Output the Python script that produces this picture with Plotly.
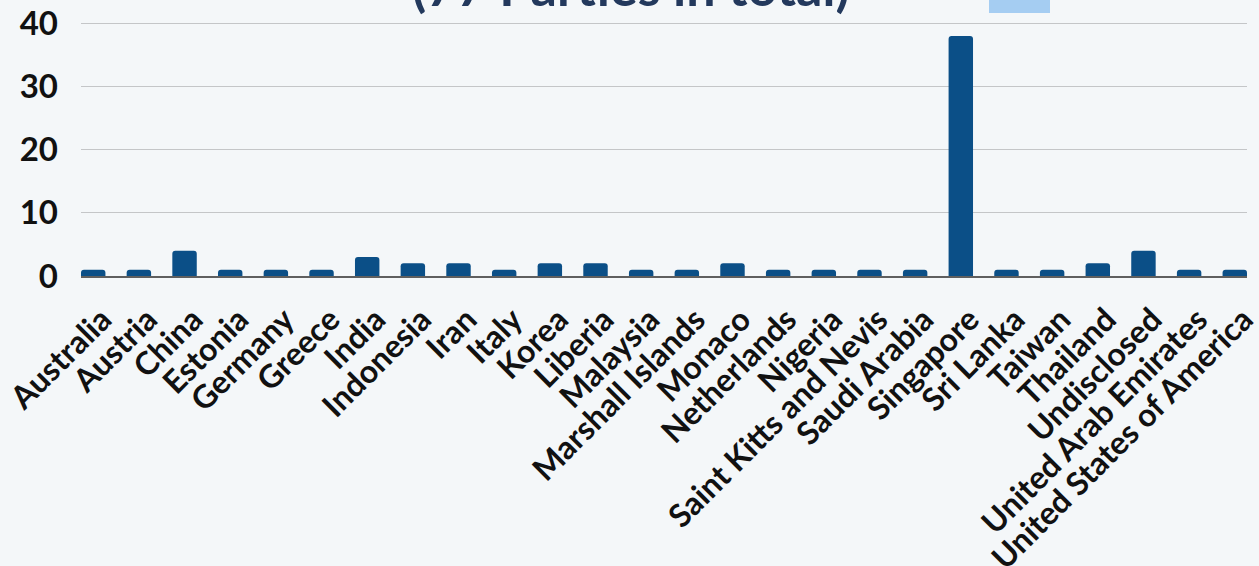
import plotly.graph_objects as go

countries = ["Australia", "Austria", "China", "Estonia", "Germany", "Greece", "India",
             "Indonesia", "Iran", "Italy", "Korea", "Liberia", "Malaysia", "Marshall Islands",
             "Monaco", "Netherlands", "Nigeria", "Saint Kitts and Nevis", "Saudi Arabia",
             "Singapore", "Sri Lanka", "Taiwan", "Thailand", "Undisclosed",
             "United Arab Emirates", "United States of America"]
parties = [1, 1, 4, 1, 1, 1, 3, 2, 2, 1, 2, 2, 1, 1, 2, 1, 1, 1, 1, 38, 1, 1, 2, 4, 1, 1]
y_ticks = [0, 10, 20, 30, 40]
title_text = "(77 Parties in total)"

BG = "#f4f7f9"
BAR = "#0b4f87"
FONT = "Lato"

fig = go.Figure(go.Bar(
    x=countries, y=parties,
    marker=dict(color=BAR, cornerradius=3, line=dict(width=0)),
    showlegend=False,
))

fig.update_layout(
    width=1259, height=566,
    paper_bgcolor=BG, plot_bgcolor=BG,
    margin=dict(l=81, r=12, t=22, b=290, autoexpand=False),
    bargap=0.465,
    font=dict(family=FONT, color="#111111"),
)

fig.update_xaxes(
    type="category",
    range=[-0.2675, len(countries) - 1 + 0.2675],
    tickangle=-45,
    tickfont=dict(family=FONT, size=32, weight="bold", color="#111111"),
    showline=True, linecolor="#5f5f5f", linewidth=2,
    showgrid=False, ticks="", automargin=False,
    ticklabelstandoff=10, ticklabelshift=9,
)
fig.update_yaxes(
    range=[0, 40.2],
    tickvals=y_ticks,
    tickfont=dict(family=FONT, size=33, weight="bold", color="#111111"),
    showgrid=True, gridcolor="#c4c6c8", gridwidth=1,
    zeroline=False, showline=False, ticks="",
    ticklabelstandoff=22, automargin=False,
)

fig.add_annotation(
    text=title_text, xref="paper", yref="paper", x=0.472, y=1.012,
    xanchor="center", yanchor="bottom", showarrow=False,
    font=dict(family=FONT, size=52, weight="bold", color="#23395d"),
)
fig.add_shape(
    type="rect", xref="paper", yref="paper",
    x0=(989 - 81) / 1166, x1=(1050 - 81) / 1166,
    y0=1 + (23 - 14) / 254, y1=1.2,
    fillcolor="#a5cdf2", line=dict(width=0), layer="above",
)

fig.write_html("out.html")
